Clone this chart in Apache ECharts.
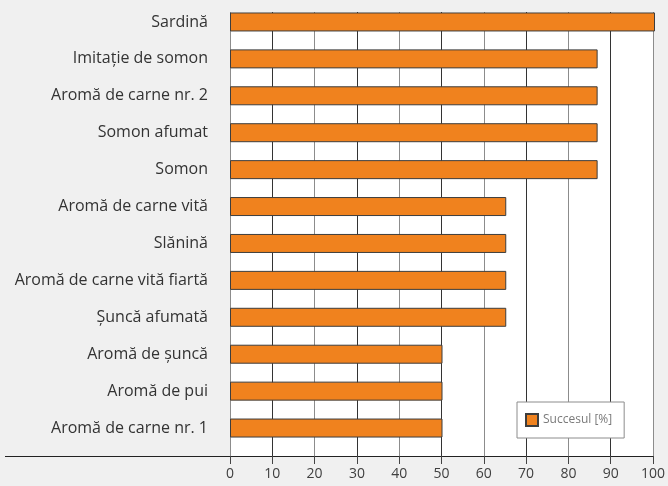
<!DOCTYPE html>
<html>
<head>
<meta charset="utf-8">
<script src="https://cdn.jsdelivr.net/npm/echarts@6/dist/echarts.min.js"></script>
<style>
  html, body { margin: 0; padding: 0; background: #f0f0f0; }
  #chart { width: 668px; height: 486px; }
</style>
</head>
<body>
<div id="chart"></div>
<script>
  // top to bottom, as in the picture
  const CATEGORIES = ['Sardină', 'Imitație de somon', 'Aromă de carne nr. 2', 'Somon afumat', 'Somon',
    'Aromă de carne vită', 'Slănină', 'Aromă de carne vită fiartă', 'Șuncă afumată',
    'Aromă de șuncă', 'Aromă de pui', 'Aromă de carne nr. 1'];
  const SUCCESS = [100, 86.5, 86.5, 86.5, 86.5, 65, 65, 65, 65, 50, 50, 50];
  const X_MIN = 0, X_MAX = 100, X_STEP = 10;
  const SERIES_NAME = 'Succesul [%]';

  const FONT = 'Open Sans';

  let chart = echarts.init(document.getElementById('chart'));
  let option = {
    backgroundColor: '#f0f0f0',
    animation: false,
    grid: [
      // bars + category labels
      { left: 230, right: 13, top: 3.5, bottom: 39.5 },
      // white plot area with the value axis
      { left: 230, right: 13, top: 12, bottom: 30, show: true, backgroundColor: '#fff', borderWidth: 0 }
    ],
    legend: {
      data: [SERIES_NAME],
      icon: 'rect',
      left: 517, top: 402,
      orient: 'vertical',
      backgroundColor: '#fff',
      borderColor: '#8c8c8c',
      borderWidth: 1,
      borderRadius: 0,
      padding: [11, 12, 11, 8],
      itemWidth: 12, itemHeight: 12,
      itemGap: 0,
      textStyle: { color: '#7a7a7a', fontSize: 12, fontFamily: FONT }
    },
    xAxis: [
      { gridIndex: 0, type: 'value', min: X_MIN, max: X_MAX, interval: X_STEP, show: false },
      {
        gridIndex: 1, type: 'value', min: X_MIN, max: X_MAX, interval: X_STEP,
        axisLine: { show: true, lineStyle: { color: '#222', width: 1 } },
        axisTick: { show: true, length: 8, lineStyle: { color: '#444' } },
        axisLabel: { color: '#404040', fontSize: 14, fontFamily: FONT, margin: 11 },
        splitLine: { show: true, lineStyle: { color: ['#8c8c8c', '#333'], width: 1 } }
      }
    ],
    yAxis: [
      {
        gridIndex: 0, type: 'category', data: CATEGORIES, inverse: true,
        axisLine: { show: false }, axisTick: { show: false },
        axisLabel: { color: '#333', fontSize: 16, fontFamily: FONT, margin: 22 }
      },
      { gridIndex: 1, type: 'value', show: false }
    ],
    graphic: [
      {
        type: 'line', z: 5,
        shape: { x1: 5, y1: 456.5, x2: 230, y2: 456.5 },
        style: { stroke: '#222', lineWidth: 1 }
      }
    ],
    series: [
      {
        name: SERIES_NAME,
        type: 'bar',
        xAxisIndex: 0, yAxisIndex: 0,
        data: SUCCESS,
        barWidth: 19,
        itemStyle: { color: '#f0821e', borderColor: '#3d3d3d', borderWidth: 1 }
      }
    ]
  };
  chart.setOption(option);
</script>
</body>
</html>
